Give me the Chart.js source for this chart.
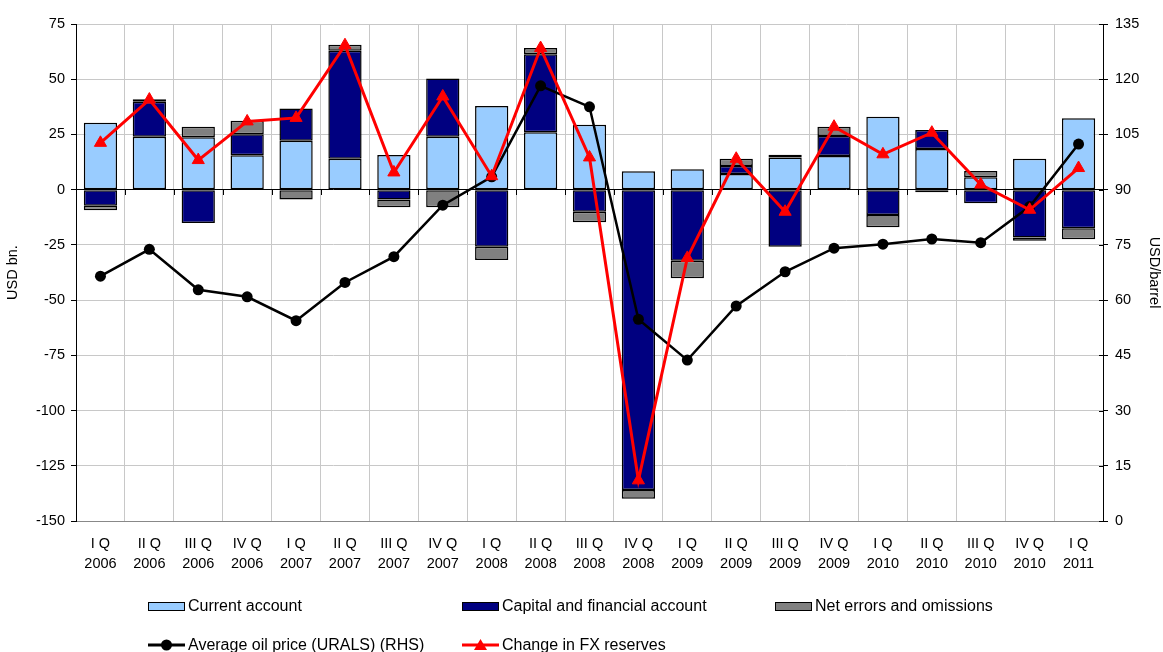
<!DOCTYPE html>
<html>
<head>
<meta charset="utf-8">
<script src="https://cdn.jsdelivr.net/npm/chart.js@4"></script>
<style>
    body { margin: 0; background: #fff; }
    #wrap { position: relative; width: 1163px; height: 652px; overflow: hidden; font-family: Arial, "Liberation Sans", sans-serif; }
    .legendItem { position: absolute; display: flex; align-items: center; font-size: 16px; color: #000; white-space: nowrap; line-height: 18px; }
    .legendItem svg { margin-right: 3px; }
</style>
</head>
<body>
<div id="wrap">
    <canvas id="chart"></canvas>
</div>
<script>
const labels = [
    ['I Q', '2006'], ['II Q', '2006'], ['III Q', '2006'], ['IV Q', '2006'],
    ['I Q', '2007'], ['II Q', '2007'], ['III Q', '2007'], ['IV Q', '2007'],
    ['I Q', '2008'], ['II Q', '2008'], ['III Q', '2008'], ['IV Q', '2008'],
    ['I Q', '2009'], ['II Q', '2009'], ['III Q', '2009'], ['IV Q', '2009'],
    ['I Q', '2010'], ['II Q', '2010'], ['III Q', '2010'], ['IV Q', '2010'],
    ['I Q', '2011']
];

// USD bn.
const current_account = [30.3, 24, 23.7, 15.6, 22.2, 14, 15.7, 24, 37.9, 26, 29.4, 8.3, 9.2, 7.1, 14.6, 15.2, 33, 18.4, 5.6, 14, 32.3];
const capital_account = [-7.3, 15.8, -15.1, 9.5, 14.6, 48.9, -4.4, 26.3, -25.8, 35.3, -10, -136, -32.2, 3.6, -25.8, 9.1, -11.5, 8.6, -6.2, -21.7, -17.5];
const net_errors = [-2, 1.1, 4.8, 6.1, -4.4, 2.7, -3.6, -8, -6, 2.8, -4.8, -3.9, -7.9, 3.3, 1.2, 4.2, -5.5, -1.2, 2.9, -1.4, -5];
const fx_reserves = [21.2, 40.8, 13.4, 30.9, 32.5, 65.4, 7.8, 42.2, 6.1, 64.1, 14.6, -131.6, -30.9, 14, -10, 28.5, 16, 25.8, 2.3, -9.1, 9.8];
// USD/barrel
const oil_price = [66.5, 73.8, 62.8, 60.9, 54.4, 64.8, 71.8, 85.8, 93.5, 118.2, 112.5, 54.8, 43.7, 58.4, 67.7, 74.1, 75.2, 76.6, 75.6, 85.4, 102.4];

const fontFamily = 'Arial, "Liberation Sans", sans-serif';
Chart.defaults.font.family = fontFamily;
Chart.defaults.color = '#000';

function barDataset(label, data, color) {
    return {
        type: 'bar',
        label: label,
        data: data,
        backgroundColor: color,
        borderColor: '#000',
        borderWidth: 1.5,
        borderSkipped: false,
        barPercentage: 0.68,
        categoryPercentage: 1,
        yAxisID: 'y',
        stack: 'bop',
        order: 2
    };
}

// little tick marks hanging under the zero line, like the excel axis
const zeroTicks = {
    id: 'zeroTicks',
    beforeDatasetsDraw(chart) {
        const { ctx, scales: { x, y } } = chart;
        const y0 = Math.round(y.getPixelForValue(0));
        const step = (x.right - x.left) / labels.length;
        ctx.save();
        ctx.strokeStyle = '#000';
        ctx.lineWidth = 1;
        for (let i = 0; i <= labels.length; i++) {
            const px = Math.round(x.left + i * step) + 0.5;
            ctx.beginPath();
            ctx.moveTo(px, y0);
            ctx.lineTo(px, y0 + 5);
            ctx.stroke();
        }
        // right axis ticks poke a little into the plot too
        const y2 = chart.scales.y2;
        y2.ticks.forEach(t => {
            const py = Math.round(y2.getPixelForValue(t.value)) + 0.5;
            ctx.beginPath();
            ctx.moveTo(y2.left - 4, py);
            ctx.lineTo(y2.left, py);
            ctx.stroke();
        });
        ctx.restore();
    }
};

const chart = new Chart(document.getElementById('chart'), {
    data: {
        labels: labels,
        datasets: [
            barDataset('Current account', current_account, '#99CCFF'),
            barDataset('Capital and financial account', capital_account, '#000080'),
            barDataset('Net errors and omissions', net_errors, '#808080'),
            {
                type: 'line',
                label: 'Average oil price (URALS) (RHS)',
                data: oil_price,
                borderColor: '#000',
                backgroundColor: '#000',
                borderWidth: 2.5,
                pointStyle: 'circle',
                pointRadius: 5.5,
                pointBorderWidth: 0,
                tension: 0,
                yAxisID: 'y2',
                order: 1
            },
            {
                type: 'line',
                label: 'Change in FX reserves',
                data: fx_reserves,
                borderColor: '#FF0000',
                backgroundColor: '#FF0000',
                borderWidth: 3,
                pointStyle: 'triangle',
                pointRadius: 7,
                pointBorderWidth: 1,
                tension: 0,
                yAxisID: 'y',
                stack: 'fx',
                order: 0
            }
        ]
    },
    options: {
        responsive: true,
        maintainAspectRatio: false,
        animation: false,
        layout: {
            padding: { top: 24, left: 0, right: 0, bottom: 0 }
        },
        plugins: {
            legend: { display: false },
            tooltip: { enabled: false }
        },
        scales: {
            x: {
                stacked: true,
                offset: true,
                grid: {
                    offset: true,
                    color: '#C8C8C8',
                    drawTicks: false
                },
                border: { color: '#888' },
                ticks: {
                    font: { size: 14.5, lineHeight: 1.38 },
                    padding: 13,
                    maxRotation: 0,
                    autoSkip: false
                },
                afterFit: scale => { scale.height = 131; }
            },
            y: {
                stacked: true,
                position: 'left',
                min: -150,
                max: 75,
                grid: {
                    color: ctx => ctx.tick && ctx.tick.value === 0 ? '#000' : '#C8C8C8',
                    tickColor: '#000',
                    tickLength: 5
                },
                border: { color: '#000' },
                ticks: {
                    stepSize: 25,
                    font: { size: 14.5 },
                    padding: 6
                },
                title: {
                    display: true,
                    text: 'USD bn.',
                    font: { size: 14.5 },
                    padding: 4
                },
                afterFit: scale => { scale.width = 76; }
            },
            y2: {
                position: 'right',
                min: 0,
                max: 135,
                grid: {
                    drawOnChartArea: false,
                    tickColor: '#000',
                    tickLength: 5
                },
                border: { color: '#000' },
                ticks: {
                    stepSize: 15,
                    font: { size: 14.5 },
                    padding: 7
                },
                title: {
                    display: true,
                    text: 'USD/barrel',
                    font: { size: 14.5 },
                    padding: 0
                },
                afterFit: scale => { scale.width = 60; }
            }
        }
    },
    plugins: [zeroTicks]
});

// html legend laid out in excel-like columns
const legendColumns = [148, 462, 775];
const legendRows = [606, 645];
const wrap = document.getElementById('wrap');

function legendSymbol(ds) {
    if (ds.type === 'bar') {
        return '<svg width="37" height="9"><rect x="0.5" y="0.5" width="36" height="8" fill="' + ds.backgroundColor + '" stroke="#000" stroke-width="1"/></svg>';
    }
    let marker;
    if (ds.pointStyle === 'triangle') {
        marker = '<polygon points="18.5,0 25,11 12,11" fill="' + ds.borderColor + '"/>';
    } else {
        marker = '<circle cx="18.5" cy="6" r="5.5" fill="' + ds.borderColor + '"/>';
    }
    return '<svg width="37" height="12"><line x1="0" y1="6" x2="37" y2="6" stroke="' + ds.borderColor + '" stroke-width="3"/>' + marker + '</svg>';
}

chart.data.datasets.forEach((ds, i) => {
    const row = i < 3 ? 0 : 1;
    const col = i < 3 ? i : i - 3;
    const item = document.createElement('div');
    item.className = 'legendItem';
    item.style.left = legendColumns[col] + 'px';
    item.style.top = (legendRows[row] - 9) + 'px';
    item.innerHTML = legendSymbol(ds) + '<span>' + ds.label + '</span>';
    wrap.appendChild(item);
});
</script>
</body>
</html>
